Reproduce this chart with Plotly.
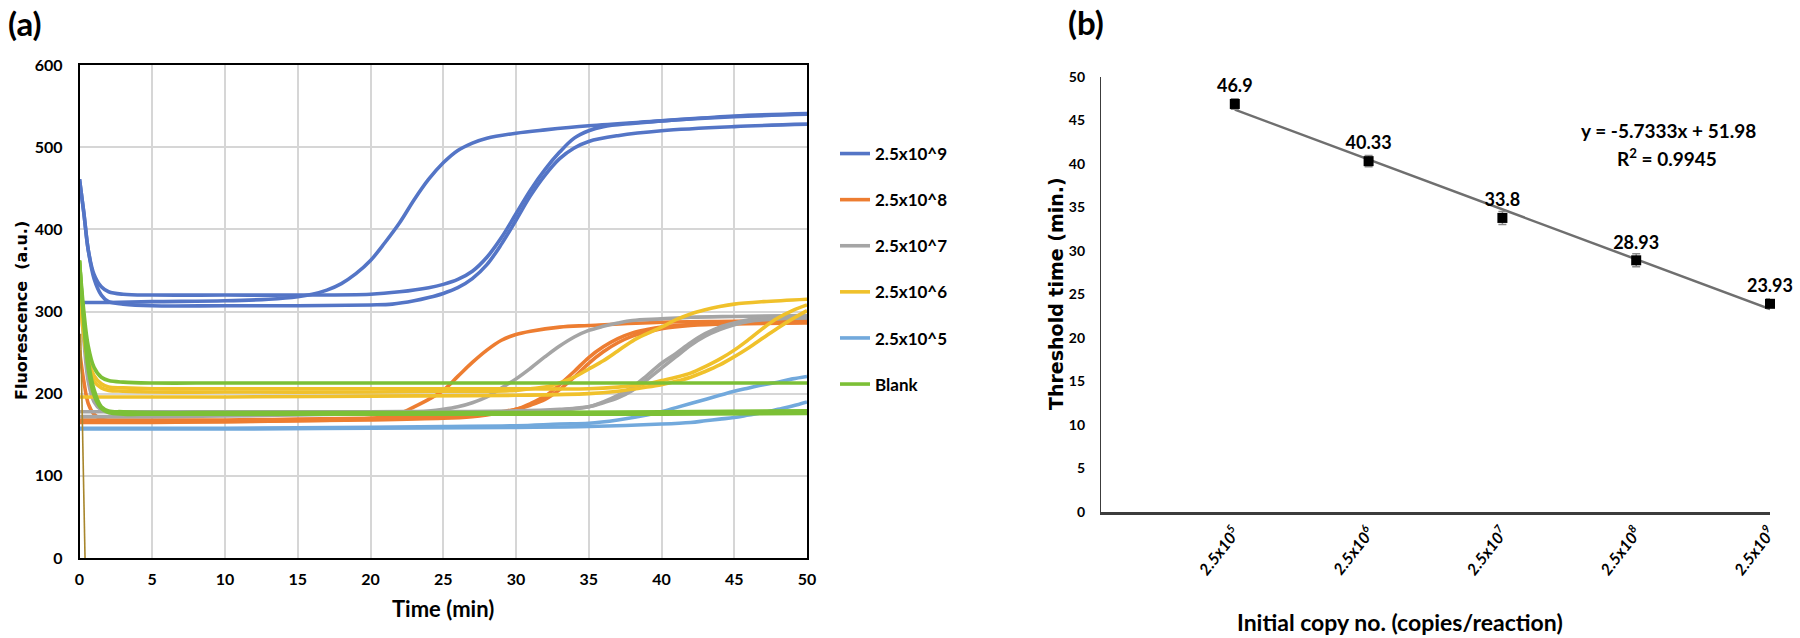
import plotly.graph_objects as go

W, H = 1800, 638

# ---------------- panel (a): amplification curves ----------------
series_names = ["2.5x10^9", "2.5x10^8", "2.5x10^7", "2.5x10^6", "2.5x10^5", "Blank"]
series_colors = ["#5475c6", "#ed7d31", "#a5a5a5", "#f0c12b", "#72a9dc", "#7cc036"]

# 2.5x10^9 (three replicates)
b1_t = [0, 2, 5, 10, 13, 15, 16, 17, 18, 19, 20, 21, 22, 23, 24, 25, 26, 27, 28, 30, 32, 35, 40, 45, 50]
b1_v = [311, 311, 312, 313, 315, 318, 321, 326, 334, 346, 362, 384, 408, 436, 461, 481, 496, 505, 511, 517, 521, 526, 532, 538, 541]
b2_t = [0, 0.3, 0.6, 1, 1.5, 2, 3, 5, 10, 15, 20, 22, 24, 25, 26, 27, 28, 29, 30, 31, 32, 33, 34, 35, 36, 38, 40, 45, 50]
b2_v = [461, 420, 375, 345, 330, 324, 321, 320, 320, 320, 321, 324, 329, 333, 339, 349, 366, 390, 419, 448, 473, 494, 511, 520, 525, 529, 532, 537, 540]
b3_t = [0, 0.3, 0.6, 1, 1.5, 2, 3, 5, 10, 15, 20, 21.5, 23, 24, 25, 26, 27, 28, 29, 30, 31, 32, 33, 34, 35, 37, 40, 45, 50]
b3_v = [461, 420, 375, 340, 320, 312, 309, 307, 307, 307, 308, 309, 313, 317, 322, 329, 340, 357, 382, 411, 441, 466, 486, 499, 507, 514, 520, 525, 528]

# 2.5x10^8
o1_t = [0, 0.3, 0.6, 1, 1.5, 2, 5, 10, 15, 19, 20, 21, 22, 23, 24, 25, 26, 27, 28, 29, 30, 31, 33, 35, 40, 45, 50]
o1_v = [253, 215, 188, 175, 169, 167, 166, 166, 167, 169, 170, 172, 176, 184, 193, 204, 221, 238, 253, 265, 272, 276, 281, 283, 287, 288, 289]
o2_t = [0, 1, 2, 5, 10, 15, 20, 25, 27, 28, 29, 30, 31, 32, 33, 34, 35, 36, 37, 38, 39, 40, 42, 45, 50]
o2_v = [165, 165, 165, 165, 166, 167, 168, 170, 172, 174, 177, 181, 188, 197, 211, 227, 244, 257, 267, 274, 278, 281, 284, 286, 287]
o3_t = [0, 2, 5, 10, 15, 20, 25, 27, 28, 29, 30, 31, 32, 33, 34, 35, 36, 37, 38, 39, 40, 42, 45, 50]
o3_v = [168, 168, 168, 168, 169, 170, 172, 174, 175, 178, 181, 186, 193, 205, 220, 237, 251, 262, 270, 275, 279, 283, 285, 286]

# 2.5x10^7
g1_t = [0, 2, 5, 10, 15, 20, 22, 24, 25, 26, 27, 28, 29, 30, 31, 32, 33, 34, 35, 36, 37, 38, 40, 42, 45, 50]
g1_v = [172, 172, 172, 173, 174, 176, 177, 179, 181, 184, 189, 196, 207, 218, 231, 245, 258, 269, 277, 282, 286, 289, 291, 293, 294, 295]
g2_t = [0, 0.3, 0.6, 1, 1.5, 2, 3, 5, 10, 20, 30, 33, 35, 36, 37, 38, 39, 40, 41, 42, 43, 44, 45, 46, 48, 50]
g2_v = [325, 265, 215, 190, 180, 177, 176, 176, 176, 176, 177, 180, 184, 190, 198, 208, 222, 237, 249, 262, 273, 281, 286, 290, 292, 293]
g3_t = [0, 2, 5, 10, 20, 30, 33, 35, 36, 37, 38, 39, 40, 41, 42, 43, 44, 45, 46, 48, 50]
g3_v = [178, 178, 178, 178, 178, 179, 181, 184, 189, 195, 204, 217, 231, 245, 259, 270, 278, 284, 288, 291, 292]

# 2.5x10^6
y1_t = [0, 0.3, 0.6, 1, 1.5, 2, 3, 5, 10, 20, 25, 28, 30, 31, 32, 33, 34, 35, 36, 37, 38, 39, 40, 41, 42, 43, 44, 45, 47, 50]
y1_v = [320, 270, 235, 215, 207, 204, 203, 202, 202, 202, 203, 203, 204, 206, 208, 213, 220, 230, 240, 252, 264, 273, 281, 290, 297, 302, 306, 309, 312, 315]
y2_t = [0, 0.3, 0.6, 1, 1.5, 2, 3, 5, 10, 20, 30, 35, 37, 39, 40, 41, 42, 43, 44, 45, 46, 47, 48, 49, 50]
y2_v = [330, 278, 242, 222, 212, 208, 207, 206, 206, 206, 206, 206, 208, 212, 216, 220, 225, 233, 242, 253, 266, 280, 292, 301, 308]
y3_t = [0, 5, 10, 20, 30, 35, 37, 39, 40, 41, 42, 43, 44, 45, 46, 47, 48, 49, 50]
y3_v = [196, 196, 196, 197, 198, 200, 203, 208, 211, 215, 220, 227, 235, 245, 256, 268, 280, 291, 301]

# 2.5x10^5
l1_t = [0, 5, 10, 20, 25, 30, 33, 35, 37, 39, 40, 41, 42, 43, 44, 45, 46, 47, 48, 49, 50]
l1_v = [158, 158, 158, 159, 160, 161, 163, 164, 168, 174, 178, 183, 188, 193, 198, 203, 207, 211, 214, 218, 221]
l2_t = [0, 5, 10, 20, 30, 35, 40, 42, 43, 44, 45, 46, 47, 48, 49, 50]
l2_v = [157, 157, 157, 158, 159, 160, 163, 165, 167, 169, 171, 174, 177, 181, 185, 190]

# Blank
k_t = [0, 0.3, 0.6, 1, 1.5, 2, 3, 5, 10, 20, 30, 40, 50]
k1_v = [362, 300, 258, 232, 220, 216, 214, 213, 213, 213, 213, 213, 213]
k2_v = [362, 290, 240, 205, 184, 179, 178, 177, 177, 177, 177, 178, 179]
k3_v = [362, 285, 230, 198, 182, 177, 175, 175, 175, 175, 175, 175, 176]

# spike seen at start of the run
spike_t = [0.08, 0.38]
spike_v = [273, 0]
spike_color = "#a8862c"

curves = [
    [(b1_t, b1_v), (b2_t, b2_v), (b3_t, b3_v)],
    [(o1_t, o1_v), (o2_t, o2_v), (o3_t, o3_v)],
    [(g1_t, g1_v), (g2_t, g2_v), (g3_t, g3_v)],
    [(y1_t, y1_v), (y2_t, y2_v), (y3_t, y3_v)],
    [(l1_t, l1_v), (l2_t, l2_v)],
    [(k_t, k1_v), (k_t, k2_v), (k_t, k3_v)],
]

time_ticks = list(range(0, 51, 5))
fluor_ticks = list(range(0, 601, 100))

# ---------------- panel (b): standard curve ----------------
copy_pos = [1, 2, 3, 4, 5]
copy_labels = ["2.5x10<sup>5</sup>", "2.5x10<sup>6</sup>", "2.5x10<sup>7</sup>",
               "2.5x10<sup>8</sup>", "2.5x10<sup>9</sup>"]
threshold_time = [46.9, 40.33, 33.8, 28.93, 23.93]
threshold_err = [0.6, 0.65, 0.75, 0.75, 0.55]
fit_slope = -5.7333
fit_intercept = 51.98
fit_r2 = 0.9945
thr_ticks = list(range(0, 51, 5))


def px(x):
    return x / W


def py(y):
    return 1 - y / H


LATO = "Lato"
fig = go.Figure()

for si, (name, color) in enumerate(zip(series_names, series_colors)):
    for ci, (t, v) in enumerate(curves[si]):
        fig.add_trace(go.Scatter(
            x=t, y=v, mode="lines", name=name, legendgroup=name,
            showlegend=(ci == 0),
            line=dict(color=color, width=3.6, shape="spline", smoothing=1.0),
            xaxis="x", yaxis="y"))

fig.add_trace(go.Scatter(x=spike_t, y=spike_v, mode="lines", showlegend=False,
                         line=dict(color=spike_color, width=1.6), xaxis="x", yaxis="y"))

# trendline
fit_x = [copy_pos[0], copy_pos[-1]]
fit_y = [fit_slope * xx + fit_intercept for xx in fit_x]
fig.add_trace(go.Scatter(x=fit_x, y=fit_y, mode="lines", showlegend=False,
                         line=dict(color="#6f6f6f", width=2.5), xaxis="x2", yaxis="y2"))
fig.add_trace(go.Scatter(
    x=copy_pos, y=threshold_time, mode="markers+text", showlegend=False,
    text=[str(v) for v in threshold_time], textposition="top center",
    textfont=dict(family=LATO, size=18, color="black", weight="bold"),
    marker=dict(symbol="square", size=10, color="black"),
    error_y=dict(type="data", array=threshold_err, color="#8a8a8a", thickness=1.5, width=4),
    cliponaxis=False, xaxis="x2", yaxis="y2"))

tickfont_a = dict(family=LATO, size=16, color="black", weight="bold")

fig.update_layout(
    width=W, height=H, margin=dict(l=0, r=0, t=0, b=0, autoexpand=False),
    paper_bgcolor="white", plot_bgcolor="white",
    xaxis=dict(domain=[px(79.5), px(807)], anchor="y", range=[0, 50], tickvals=time_ticks,
               showgrid=True, gridcolor="#d6d6d6", gridwidth=1.5, zeroline=False,
               showline=True, linecolor="black", linewidth=1.5, mirror=True,
               ticks="", tickfont=tickfont_a, ticklabelstandoff=6, automargin=False),
    yaxis=dict(domain=[py(558), py(65)], anchor="x", range=[0, 600], tickvals=fluor_ticks,
               showgrid=True, gridcolor="#d6d6d6", gridwidth=1.5, zeroline=False,
               showline=True, linecolor="black", linewidth=1.5, mirror=True,
               ticks="", tickfont=tickfont_a, ticklabelstandoff=12, automargin=False),
    xaxis2=dict(domain=[px(1101), px(1770)], anchor="y2", range=[0, 5],
                tickvals=copy_pos, ticktext=copy_labels, tickangle=-52,
                showgrid=False, zeroline=False, showline=True, linecolor="#3c3c3c", linewidth=2.5,
                ticks="", tickfont=dict(family=LATO, size=16, color="black", weight="bold", style="italic"),
                ticklabelstandoff=2, automargin=False),
    yaxis2=dict(domain=[py(512), py(77)], anchor="x2", range=[0, 50], tickvals=thr_ticks,
                showgrid=False, zeroline=False, showline=True, linecolor="#3c3c3c", linewidth=1.3,
                ticks="", tickfont=dict(family=LATO, size=14, color="black", weight="bold"),
                ticklabelstandoff=12, automargin=False),
    legend=dict(x=px(835), y=py(136), xanchor="left", yanchor="top",
                font=dict(family=LATO, size=17, color="black", weight="bold"),
                tracegroupgap=21, bgcolor="rgba(0,0,0,0)", itemwidth=30),
    showlegend=True,
)

ann = [
    dict(text="(a)", x=px(25), y=py(23), font=dict(family=LATO, size=33, color="black", weight="bold")),
    dict(text="(b)", x=px(1086), y=py(22), font=dict(family=LATO, size=33, color="black", weight="bold")),
    dict(text="Time (min)", x=px(443), y=py(608), font=dict(family=LATO, size=22, color="black", weight="bold")),
    dict(text="Fluorescence\u00a0 (a.u.)", x=px(22), y=py(311), textangle=-90,
         font=dict(family="DejaVu Sans", size=16, color="black", weight="bold")),
    dict(text="Threshold time (min.)", x=px(1056), y=py(294), textangle=-90,
         font=dict(family="DejaVu Sans", size=19, color="black", weight="bold")),
    dict(text="Initial copy no. (copies/reaction)", x=px(1400), y=py(622),
         font=dict(family=LATO, size=23, color="black", weight="bold")),
    dict(text=f"y = {fit_slope}x + {fit_intercept}", x=px(1668), y=py(130),
         font=dict(family=LATO, size=19, color="black", weight="bold")),
    dict(text=f"R<sup>2</sup> = {fit_r2}", x=px(1667), y=py(157),
         font=dict(family=LATO, size=19, color="black", weight="bold")),
]
for a in ann:
    a.update(xref="paper", yref="paper", showarrow=False, xanchor="center", yanchor="middle")
fig.update_layout(annotations=ann)

fig.write_html(
    "out.html",
    config={"displayModeBar": False},
    post_script="document.body.style.margin='0';document.body.style.overflow='hidden';",
)
